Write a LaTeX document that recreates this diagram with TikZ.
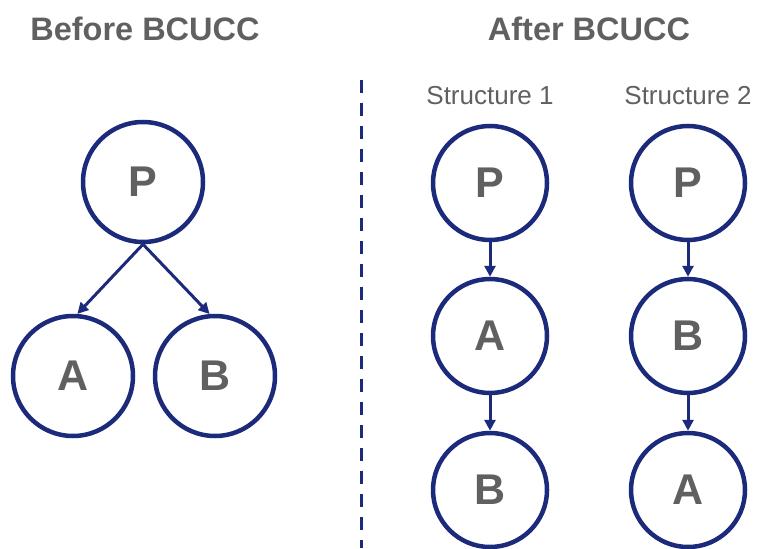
\documentclass[tikz,border=0pt]{standalone}
\usepackage{fontspec}
\setmainfont{Liberation Sans}
\usetikzlibrary{arrows.meta}
\definecolor{navy}{HTML}{1B2A7A}
\definecolor{txtgray}{HTML}{606060}
\begin{document}
\begin{tikzpicture}[x=1pt,y=-1pt,
  bignode/.style={circle,draw=navy,line width=4.5pt,minimum size=120pt,inner sep=0pt,
    text=txtgray,font=\fontsize{43}{46}\selectfont\bfseries},
  smallnode/.style={bignode,minimum size=114pt},
  title/.style={text=txtgray,font=\fontsize{32.5}{36}\selectfont\bfseries},
  label/.style={text=txtgray,font=\fontsize{26}{30}\selectfont},
  link/.style={draw=navy,line width=3pt,-{Triangle[length=11pt,width=11pt]}}]
\useasboundingbox (0,0) rectangle (759,548);
% titles
\node[title] (t1) at (145,29) {Before BCUCC};
\node[title] (t2) at (589,29) {After BCUCC};
\node[label] (s1) at (490,96) {Structure 1};
\node[label] (s2) at (688,96) {Structure 2};
% divider
\coordinate (d1) at (361,80);
\coordinate (d2) at (361,548);
\draw[navy,line width=3pt,dash pattern=on 13pt off 10pt] (d1) -- (d2);
% before
\node[bignode] (P) at (143,182) {P};
\node[bignode] (A) at (73,376) {A};
\node[bignode] (B) at (215,376) {B};
\draw[link] (P.south) -- (A.86);
\draw[link] (P.south) -- (B.95);
% structure 1
\node[smallnode] (P1) at (490,183) {P};
\node[smallnode] (A1) at (490,336) {A};
\node[smallnode] (B1) at (490,490) {B};
\draw[link] (P1.south) -- (A1.north);
\draw[link] (A1.south) -- (B1.north);
% structure 2
\node[smallnode] (P2) at (688,183) {P};
\node[smallnode] (B2) at (688,336) {B};
\node[smallnode] (A2) at (688,490) {A};
\draw[link] (P2.south) -- (B2.north);
\draw[link] (B2.south) -- (A2.north);
\end{tikzpicture}
\end{document}
